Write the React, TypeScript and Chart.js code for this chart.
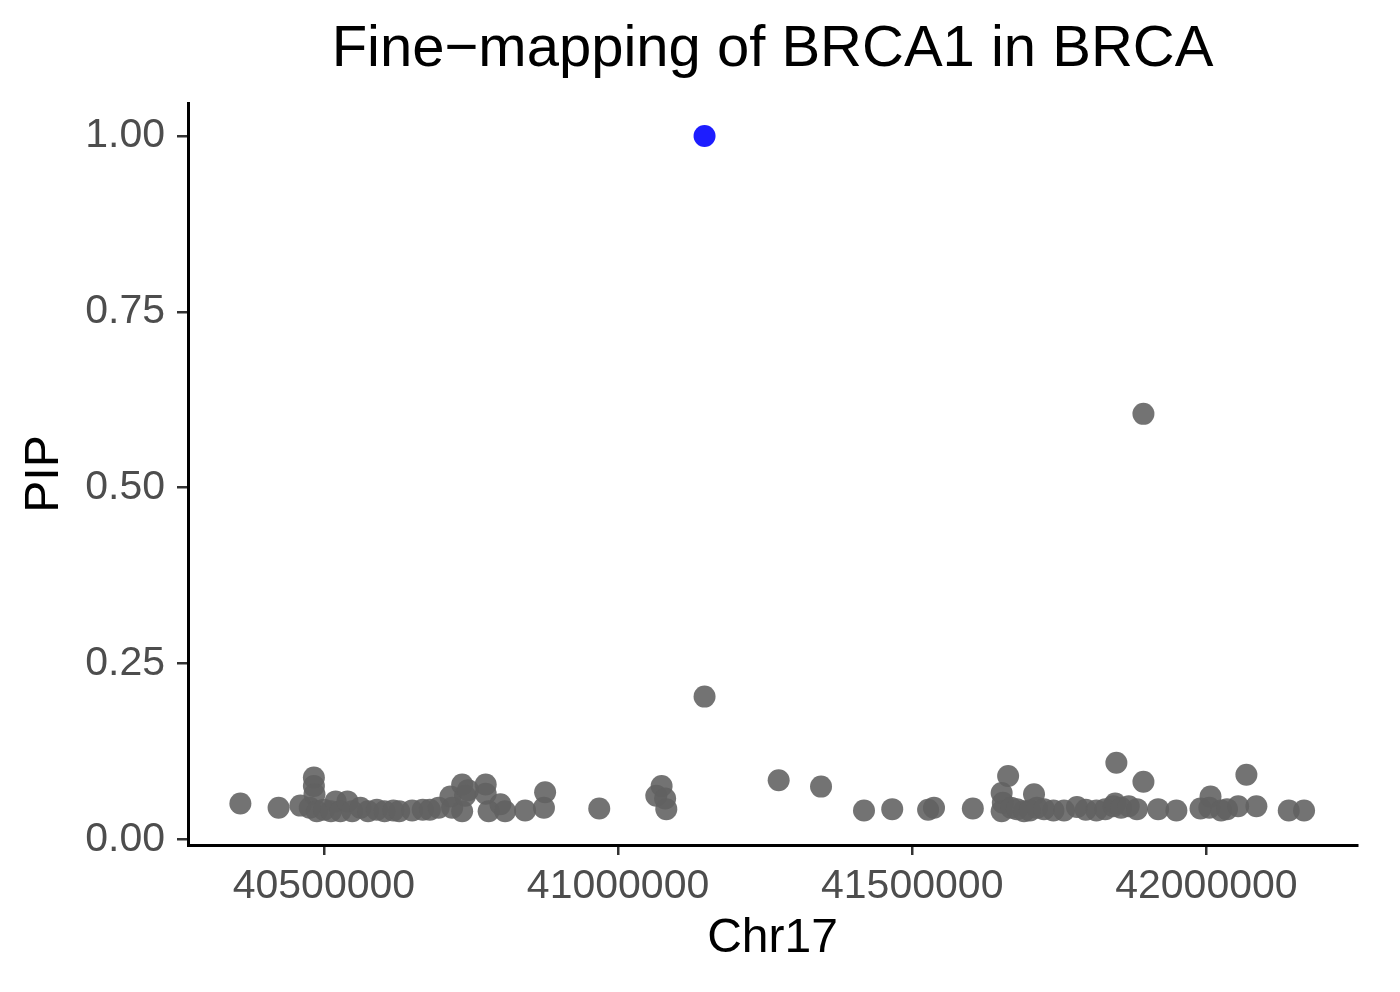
import React, { useEffect, useRef } from "react";
import { Chart, registerables } from "chart.js";

Chart.register(...registerables);

const TITLE = "Fine\u2212mapping of BRCA1 in BRCA";
const X_TITLE = "Chr17";
const Y_TITLE = "PIP";

const X_TICKS = [40500000, 41000000, 41500000, 42000000];
const Y_TICKS = [0, 0.25, 0.5, 0.75, 1.0];

const leadPos = [41147000];
const leadPip = [1.0];

const snpPos = [
  40358000, 40423000, 40460000, 40476000, 40483000, 40483000, 40484000, 40488000,
  40500000, 40512000, 40520000, 40528000, 40540000, 40548000, 40562000, 40575000,
  40590000, 40603000, 40618000, 40628000, 40650000, 40668000, 40680000, 40695000,
  40715000, 40718000, 40735000, 40735000, 40740000, 40745000, 40775000, 40775000,
  40780000, 40800000, 40808000, 40842000, 40876000, 40874000,
  40968000, 41065000, 41074000, 41080000, 41082000, 41147000, 41273000, 41345000,
  41418000, 41466000, 41527000, 41537000,
  41603000, 41652000, 41654000, 41652000, 41663000, 41668000, 41678000, 41690000,
  41700000, 41707000, 41712000, 41724000, 41740000, 41758000, 41780000, 41795000,
  41813000, 41828000, 41842000, 41845000, 41847000, 41855000, 41868000, 41882000,
  41893000, 41893000, 41918000, 41949000, 41990000, 42005000, 42007000, 42025000,
  42035000, 42054000, 42068000, 42085000, 42140000, 42166000,
];
const snpPip = [
  0.051, 0.045, 0.048, 0.045, 0.088, 0.076, 0.064, 0.040,
  0.042, 0.040, 0.054, 0.040, 0.054, 0.040, 0.045, 0.040,
  0.042, 0.040, 0.041, 0.040, 0.041, 0.042, 0.042, 0.045,
  0.061, 0.045, 0.078, 0.040, 0.062, 0.070, 0.078, 0.065,
  0.040, 0.050, 0.040, 0.041, 0.067, 0.045,
  0.044, 0.062, 0.076, 0.058, 0.043, 0.203, 0.084, 0.075,
  0.041, 0.043, 0.042, 0.045,
  0.044, 0.066, 0.052, 0.040, 0.090, 0.045, 0.043, 0.040,
  0.041, 0.064, 0.045, 0.043, 0.041, 0.041, 0.046, 0.042,
  0.041, 0.043, 0.047, 0.051, 0.109, 0.045, 0.047, 0.043,
  0.082, 0.605, 0.043, 0.041, 0.044, 0.045, 0.061, 0.041,
  0.043, 0.047, 0.092, 0.047, 0.041, 0.041,
];

const FONT = '"Liberation Sans", Arial, Helvetica, sans-serif';

const titlePlugin = {
  id: "centerTitle",
  afterDraw(chart: any) {
    const { ctx, chartArea } = chart;
    ctx.save();
    ctx.font = `58px ${FONT}`;
    ctx.fillStyle = "#000000";
    ctx.textAlign = "center";
    ctx.textBaseline = "alphabetic";
    ctx.fillText(TITLE, (chartArea.left + chartArea.right) / 2, 66);
    ctx.restore();
  },
};

export default function App() {
  const ref = useRef<HTMLCanvasElement>(null);

  useEffect(() => {
    if (!ref.current) return;
    const chart = new Chart(ref.current, {
      type: "scatter",
      data: {
        datasets: [
          {
            label: "lead",
            data: leadPos.map((x, i) => ({ x, y: leadPip[i] })),
            backgroundColor: "rgba(0,0,255,0.886)",
            borderWidth: 0,
            pointRadius: 11,
          },
          {
            label: "snps",
            data: snpPos.map((x, i) => ({ x, y: snpPip[i] })),
            backgroundColor: "rgba(97,97,97,0.886)",
            borderWidth: 0,
            pointRadius: 11,
          },
        ],
      },
      options: {
        animation: false,
        responsive: false,
        devicePixelRatio: 1,
        layout: { padding: { top: 103, right: 43, left: 0, bottom: 0 } },
        plugins: {
          legend: { display: false },
          title: { display: false },
          tooltip: { enabled: false },
        },
        scales: {
          x: {
            type: "linear",
            min: 40269000,
            max: 42256000,
            afterFit: (s: any) => {
              s.height = 147;
            },
            afterBuildTicks: (s: any) => {
              s.ticks = X_TICKS.map((v) => ({ value: v }));
            },
            ticks: {
              callback: (v: any) => String(v),
              color: "#4d4d4d",
              font: { family: FONT, size: 41 },
              padding: 7,
              maxRotation: 0,
            },
            grid: {
              drawOnChartArea: false,
              drawTicks: true,
              tickLength: 10,
              color: "#333333",
              lineWidth: 2.5,
            },
            border: { display: true, color: "#000000", width: 3 },
            title: {
              display: true,
              text: X_TITLE,
              color: "#000000",
              font: { family: FONT, size: 48 },
              padding: { top: 0, bottom: 24 },
            },
          },
          y: {
            type: "linear",
            min: -0.008,
            max: 1.047,
            afterFit: (s: any) => {
              s.width = 188;
            },
            afterBuildTicks: (s: any) => {
              s.ticks = Y_TICKS.map((v) => ({ value: v }));
            },
            ticks: {
              callback: (v: any) => Number(v).toFixed(2),
              color: "#4d4d4d",
              font: { family: FONT, size: 41 },
              padding: 12,
            },
            grid: {
              drawOnChartArea: false,
              drawTicks: true,
              tickLength: 11,
              color: "#333333",
              lineWidth: 2.5,
            },
            border: { display: true, color: "#000000", width: 3 },
            title: {
              display: true,
              text: Y_TITLE,
              color: "#000000",
              font: { family: FONT, size: 48 },
              padding: { top: 16, bottom: 0 },
            },
          },
        },
      },
      plugins: [titlePlugin],
    } as any);
    return () => chart.destroy();
  }, []);

  return (
    <div style={{ position: "absolute", left: 0, top: 0, width: 1400, height: 992, background: "#fff" }}>
      <canvas ref={ref} width={1400} height={992} style={{ display: "block" }} />
    </div>
  );
}
